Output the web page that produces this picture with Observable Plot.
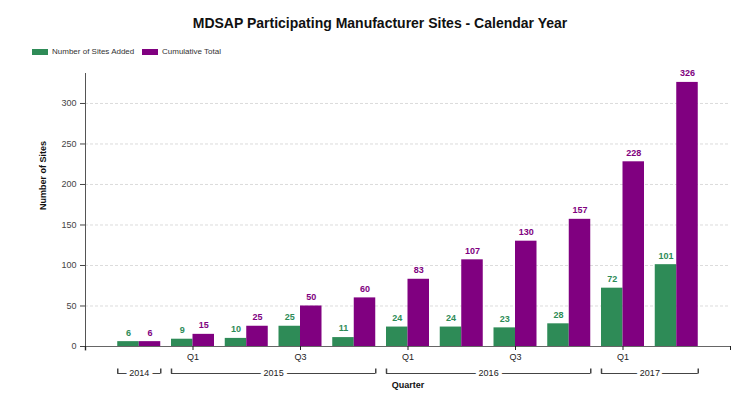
<!DOCTYPE html>
<html>
<head>
<meta charset="utf-8">
<script src="https://cdn.jsdelivr.net/npm/d3@7"></script>
<script src="https://cdn.jsdelivr.net/npm/@observablehq/plot@0.6"></script>
<style>
  html, body { margin: 0; padding: 0; background: #fff; }
  body { width: 752px; height: 398px; overflow: hidden; font-family: "Liberation Sans", Arial, sans-serif; }
  #header { position: relative; width: 752px; height: 62px; }
  #title { position: absolute; top: 16px; left: 4px; width: 752px; text-align: center; font: bold 14px/14px "Liberation Sans", Arial, sans-serif; color: #111; }
  .leg { position: absolute; top: 48px; height: 8px; font: 8px/8px "Liberation Sans", Arial, sans-serif; color: #333; white-space: nowrap; }
  .sw { display: inline-block; width: 16px; height: 6px; vertical-align: top; margin-top: 1px; margin-right: 4px; }
</style>
</head>
<body>
<div id="header">
  <div id="title"></div>
</div>
<div id="chart"></div>
<script>
const chartTitle = "MDSAP Participating Manufacturer Sites - Calendar Year";
const quarters = ["2014 Q4","2015 Q1","2015 Q2","2015 Q3","2015 Q4","2016 Q1","2016 Q2","2016 Q3","2016 Q4","2017 Q1","2017 Q2"];
const sitesAdded = [6, 9, 10, 25, 11, 24, 24, 23, 28, 72, 101];
const cumulativeTotal = [6, 15, 25, 50, 60, 83, 107, 130, 157, 228, 326];
const seriesNames = ["Number of Sites Added", "Cumulative Total"];
const seriesColors = ["#2E8B57", "#800080"];
const quarterTickLabels = {"2015 Q1": "Q1", "2015 Q3": "Q3", "2016 Q1": "Q1", "2016 Q3": "Q3", "2017 Q1": "Q1"};
const yTicks = [0, 50, 100, 150, 200, 250, 300];
const yMax = 337;
const yLabel = "Number of Sites";
const xLabel = "Quarter";

document.getElementById("title").textContent = chartTitle;
const header = document.getElementById("header");
const legendX = [32, 142];
seriesNames.forEach((name, k) => {
  const d = document.createElement("div");
  d.className = "leg";
  d.style.left = legendX[k] + "px";
  d.innerHTML = `<span class="sw" style="background:${seriesColors[k]}"></span>${name}`;
  header.appendChild(d);
});

const data = quarters.map((q, i) => ({q, i, added: sitesAdded[i], cum: cumulativeTotal[i], year: q.slice(0, 4)}));
const yearNames = Array.from(new Set(data.map(d => d.year)));
const years = yearNames.map(y => {
  const idx = data.filter(d => d.year === y).map(d => d.i);
  const start = d3.min(idx) - 0.4, end = d3.max(idx) + 0.4;
  return {year: y, start, end, mid: (start + end) / 2};
});
const bracketEnds = years.flatMap(y => [{x: y.start}, {x: y.end}]);
const tickIdx = [-1, ...data.filter(d => quarterTickLabels[d.q]).map(d => d.i), quarters.length];

const endMark = {draw(ctx) { ctx.moveTo(0, 0); ctx.lineTo(0, -5); }};
const axisEnd = {draw(ctx) { ctx.moveTo(0, 0); ctx.lineTo(0, 4); }};

const plot = Plot.plot({
  width: 752,
  height: 336,
  marginLeft: 85,
  marginRight: 22,
  marginTop: 11,
  marginBottom: 52,
  style: {fontFamily: "Liberation Sans, Arial, sans-serif", fontSize: "9px", background: "#fff", overflow: "visible"},
  x: {type: "linear", domain: [-1, quarters.length], axis: null},
  y: {domain: [0, yMax], axis: null},
  marks: [
    Plot.ruleY(yTicks.filter(t => t > 0), {stroke: "#dcdcdc", strokeDasharray: "3,2"}),
    Plot.rectY(data, {x1: d => d.i - 0.4, x2: d => d.i, y: "added", fill: seriesColors[0]}),
    Plot.rectY(data, {x1: d => d.i, x2: d => d.i + 0.4, y: "cum", fill: seriesColors[1]}),
    Plot.text(data, {x: d => d.i - 0.2, y: "added", text: d => String(d.added), dy: -9, fill: seriesColors[0], fontWeight: "bold", fontSize: 9}),
    Plot.text(data, {x: d => d.i + 0.2, y: "cum", text: d => String(d.cum), dy: -9, fill: seriesColors[1], fontWeight: "bold", fontSize: 9}),
    Plot.ruleX([-1], {y1: 0, y2: yMax, stroke: "#555"}),
    Plot.dot([-1], {x: d => d, y: 0, symbol: axisEnd, stroke: "#555", fill: "none"}),
    Plot.ruleY([0], {stroke: "#666"}),
    Plot.axisY({ticks: yTicks, tickSize: 5, tickPadding: 4, color: "#444", fontSize: 9}),
    Plot.axisX({ticks: tickIdx, tickFormat: i => { const q = quarters[i]; return q ? (quarterTickLabels[q] || "") : ""; }, tickSize: 4, tickPadding: 3, color: "#222", fontSize: 9}),
    Plot.ruleY(years, {x1: "start", x2: "end", y: 0, dy: 27, stroke: "#444"}),
    Plot.dot(bracketEnds, {x: "x", y: 0, dy: 27, symbol: endMark, stroke: "#444", fill: "none"}),
    Plot.text(years, {x: "mid", y: 0, dy: 27, text: "year", fill: "#222", stroke: "white", strokeWidth: 7, fontSize: 9}),
    Plot.text([xLabel], {frameAnchor: "bottom", dy: 41, fontWeight: "bold", fontSize: 9, fill: "#111"}),
    Plot.text([yLabel], {frameAnchor: "left", dx: -42, rotate: -90, fontWeight: "bold", fontSize: 9, fill: "#111"})
  ]
});
document.getElementById("chart").appendChild(plot);
</script>
</body>
</html>
